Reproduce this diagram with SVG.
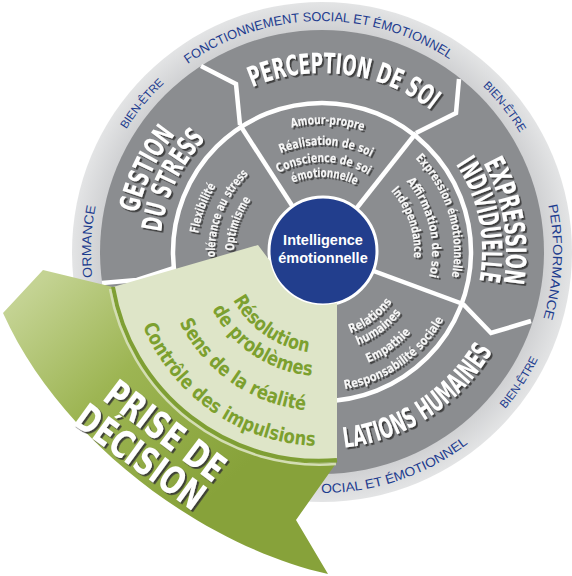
<svg xmlns="http://www.w3.org/2000/svg" xmlns:xlink="http://www.w3.org/1999/xlink" width="572" height="576" viewBox="0 0 572 576">
<defs>
<style>
.blue{font-family:"Liberation Sans",Arial,sans-serif;font-size:13px;fill:#1d3c8f}
.ttl{font-family:"DejaVu Sans Condensed","DejaVu Sans",sans-serif;font-stretch:condensed;font-weight:bold;font-size:28px;fill:#ffffff}
.in{font-family:"DejaVu Sans Condensed","DejaVu Sans",sans-serif;font-stretch:condensed;font-weight:bold;font-size:12.5px;fill:#f6f6f6}
.gr{font-family:"DejaVu Sans Condensed","DejaVu Sans",sans-serif;font-stretch:condensed;font-weight:bold;font-size:19.5px;fill:#7ca02f}
.big{font-family:"DejaVu Sans Condensed","DejaVu Sans",sans-serif;font-stretch:condensed;font-weight:bold;font-size:38px;fill:#ffffff}
.div{fill:none;stroke:#ffffff;stroke-width:4.5;stroke-linejoin:miter}
</style>
<filter id="sh" x="-10%" y="-10%" width="120%" height="120%"><feDropShadow dx="1.8" dy="1.8" stdDeviation="0.6" flood-color="#353535" flood-opacity="0.9"/></filter>
<linearGradient id="band" gradientUnits="userSpaceOnUse" x1="40" y1="280" x2="230" y2="480">
<stop offset="0" stop-color="#c4d393"/><stop offset="0.45" stop-color="#9db553"/><stop offset="1" stop-color="#87a23a"/>
</linearGradient>
<radialGradient id="lring" gradientUnits="userSpaceOnUse" cx="322" cy="252" r="250">
<stop offset="0.88" stop-color="#cfd0d2"/><stop offset="1" stop-color="#e3e4e5"/>
</radialGradient>
<path id="cw231" d="M91,252 A231,231 0 0 1 553,252"/>
<path id="cw179" d="M143,252 A179,179 0 0 1 501,252"/>
<path id="cw188" d="M134,252 A188,188 0 0 1 510,252"/>
<path id="cw162" d="M160,252 A162,162 0 0 1 484,252"/>
<path id="cw184" d="M138,252 A184,184 0 0 1 506,252"/>
<path id="cw160" d="M162,252 A160,160 0 0 1 482,252"/>
<path id="cw128" d="M194,252 A128,128 0 0 1 450,252"/>
<path id="cw107" d="M215,252 A107,107 0 0 1 429,252"/>
<path id="cw90" d="M232,252 A90,90 0 0 1 412,252"/>
<path id="cw75" d="M247,252 A75,75 0 0 1 397,252"/>
<path id="cw125" d="M197,252 A125,125 0 0 1 447,252"/>
<path id="cw88" d="M234,252 A88,88 0 0 1 410,252"/>
<path id="cw132" d="M190,252 A132,132 0 0 1 454,252"/>
<path id="cw110" d="M212,252 A110,110 0 0 1 432,252"/>
<path id="cw92" d="M230,252 A92,92 0 0 1 414,252"/>
<path id="ccw241" d="M81,252 A241,241 0 0 0 563,252"/>
<path id="ccw197" d="M125,252 A197,197 0 0 0 519,252"/>
<path id="ccw86" d="M236,252 A86,86 0 0 0 408,252"/>
<path id="ccw100" d="M222,252 A100,100 0 0 0 422,252"/>
<path id="ccw120" d="M202,252 A120,120 0 0 0 442,252"/>
<path id="ccw139" d="M183,252 A139,139 0 0 0 461,252"/>
<path id="ccw101" d="M221,252 A101,101 0 0 0 423,252"/>
<path id="ccw124" d="M198,252 A124,124 0 0 0 446,252"/>
<path id="ccw159" d="M163,252 A159,159 0 0 0 481,252"/>
<path id="ccw194" d="M128,252 A194,194 0 0 0 516,252"/>
</defs>

<g id="ring">
<circle cx="322" cy="252" r="250" fill="url(#lring)"/>
<circle cx="322" cy="252" r="222" fill="#8b8d90"/>
<circle cx="322" cy="252" r="149" fill="none" stroke="#ffffff" stroke-width="4.5"/>
</g>

<g id="dividers">
<polyline class="div" points="201,66 236,84 240,125"/>
<polyline class="div" points="459,79 456,113 416,133"/>
<polyline class="div" points="463,304 491,333 531,321"/>
<polyline class="div" points="174,268 137,280 102,283"/>
<line class="div" x1="240" y1="125" x2="322" y2="252"/>
<line class="div" x1="416" y1="133" x2="322" y2="252"/>
<line class="div" x1="463" y1="304" x2="322" y2="252"/>
</g>

<g id="outer-labels">
<text class="blue" transform="rotate(-1 322 252)" text-anchor="middle"><textPath xlink:href="#cw231" href="#cw231" startOffset="50%" textLength="278" lengthAdjust="spacingAndGlyphs">FONCTIONNEMENT SOCIAL ET ÉMOTIONNEL</textPath></text>
<text class="blue" transform="rotate(-18.6 322 252)" text-anchor="middle"><textPath xlink:href="#ccw241" href="#ccw241" startOffset="50%" textLength="158" lengthAdjust="spacingAndGlyphs">OCIAL ET ÉMOTIONNEL</textPath></text>
<text class="blue" style="font-size:11.5px" transform="rotate(-50.5 322 252)" text-anchor="middle"><textPath xlink:href="#cw231" href="#cw231" startOffset="50%" textLength="60" lengthAdjust="spacingAndGlyphs">BIEN-ÊTRE</textPath></text>
<text class="blue" style="font-size:11.5px" transform="rotate(51.5 322 252)" text-anchor="middle"><textPath xlink:href="#cw231" href="#cw231" startOffset="50%" textLength="60" lengthAdjust="spacingAndGlyphs">BIEN-ÊTRE</textPath></text>
<text class="blue" style="font-size:11.5px" transform="rotate(-56.5 322 252)" text-anchor="middle"><textPath xlink:href="#ccw241" href="#ccw241" startOffset="50%" textLength="60" lengthAdjust="spacingAndGlyphs">BIEN-ÊTRE</textPath></text>
<text class="blue" transform="rotate(92.5 322 252)" text-anchor="middle"><textPath xlink:href="#cw231" href="#cw231" startOffset="50%" textLength="115" lengthAdjust="spacingAndGlyphs">PERFORMANCE</textPath></text>
<text class="blue" transform="rotate(272.6 322 252)" text-anchor="middle"><textPath xlink:href="#cw231" href="#cw231" startOffset="50%" textLength="72" lengthAdjust="spacingAndGlyphs">ORMANCE</textPath></text>
</g>

<g id="perception" filter="url(#sh)">
<text class="ttl" transform="rotate(7.3 322 252)" text-anchor="middle"><textPath xlink:href="#cw179" href="#cw179" startOffset="50%" textLength="189" lengthAdjust="spacingAndGlyphs">PERCEPTION DE SOI</textPath></text>
<text class="in" transform="rotate(2.5 322 252)" text-anchor="middle"><textPath xlink:href="#cw128" href="#cw128" startOffset="50%" textLength="73" lengthAdjust="spacingAndGlyphs">Amour-propre</textPath></text>
<text class="in" transform="rotate(2.2 322 252)" text-anchor="middle"><textPath xlink:href="#cw107" href="#cw107" startOffset="50%" textLength="93" lengthAdjust="spacingAndGlyphs">Réalisation de soi</textPath></text>
<text class="in" transform="rotate(1.1 322 252)" text-anchor="middle"><textPath xlink:href="#cw90" href="#cw90" startOffset="50%" textLength="94" lengthAdjust="spacingAndGlyphs">Conscience de soi</textPath></text>
<text class="in" transform="rotate(2 322 252)" text-anchor="middle"><textPath xlink:href="#cw75" href="#cw75" startOffset="50%" textLength="65" lengthAdjust="spacingAndGlyphs">émotionnelle</textPath></text>
</g>

<g id="gestion" filter="url(#sh)">
<text class="ttl" transform="rotate(-64.6 322 252)" text-anchor="middle"><textPath xlink:href="#cw188" href="#cw188" startOffset="50%" textLength="88" lengthAdjust="spacingAndGlyphs">GESTION</textPath></text>
<text class="ttl" transform="rotate(-64.4 322 252)" text-anchor="middle"><textPath xlink:href="#cw162" href="#cw162" startOffset="50%" textLength="105" lengthAdjust="spacingAndGlyphs">DU STRESS</textPath></text>
<text class="in" transform="rotate(-69.8 322 252)" text-anchor="middle"><textPath xlink:href="#cw125" href="#cw125" startOffset="50%" textLength="51" lengthAdjust="spacingAndGlyphs">Flexibilité</textPath></text>
<text class="in" transform="rotate(-68 322 252)" text-anchor="middle"><textPath xlink:href="#cw107" href="#cw107" startOffset="50%" textLength="92" lengthAdjust="spacingAndGlyphs">olérance au stress</textPath></text>
<text class="in" transform="rotate(-71.5 322 252)" text-anchor="middle"><textPath xlink:href="#cw88" href="#cw88" startOffset="50%" textLength="55" lengthAdjust="spacingAndGlyphs">Optimisme</textPath></text>
</g>

<g id="expression" filter="url(#sh)">
<text class="ttl" transform="rotate(80.4 322 252)" text-anchor="middle"><textPath xlink:href="#cw184" href="#cw184" startOffset="50%" textLength="124" lengthAdjust="spacingAndGlyphs">EXPRESSION</textPath></text>
<text class="ttl" transform="rotate(78.6 322 252)" text-anchor="middle"><textPath xlink:href="#cw160" href="#cw160" startOffset="50%" textLength="122" lengthAdjust="spacingAndGlyphs">INDIVIDUELLE</textPath></text>
<text class="in" transform="rotate(72.9 322 252)" text-anchor="middle"><textPath xlink:href="#cw132" href="#cw132" startOffset="50%" textLength="129" lengthAdjust="spacingAndGlyphs">Expression émotionnelle</textPath></text>
<text class="in" transform="rotate(76.5 322 252)" text-anchor="middle"><textPath xlink:href="#cw110" href="#cw110" startOffset="50%" textLength="102" lengthAdjust="spacingAndGlyphs">Affirmation de soi</textPath></text>
<text class="in" transform="rotate(71 322 252)" text-anchor="middle"><textPath xlink:href="#cw92" href="#cw92" startOffset="50%" textLength="73" lengthAdjust="spacingAndGlyphs">Indépendance</textPath></text>
</g>

<g id="relations" filter="url(#sh)">
<text class="ttl" transform="rotate(-33.25 322 252)" text-anchor="middle"><textPath xlink:href="#ccw197" href="#ccw197" startOffset="50%" textLength="184" lengthAdjust="spacingAndGlyphs">LATIONS HUMAINES</textPath></text>
<text class="in" transform="rotate(-37 322 252)" text-anchor="middle"><textPath xlink:href="#ccw86" href="#ccw86" startOffset="50%" textLength="53" lengthAdjust="spacingAndGlyphs">Relations</textPath></text>
<text class="in" transform="rotate(-36.8 322 252)" text-anchor="middle"><textPath xlink:href="#ccw100" href="#ccw100" startOffset="50%" textLength="55" lengthAdjust="spacingAndGlyphs">humaines</textPath></text>
<text class="in" transform="rotate(-35.2 322 252)" text-anchor="middle"><textPath xlink:href="#ccw120" href="#ccw120" startOffset="50%" textLength="53" lengthAdjust="spacingAndGlyphs">Empathie</textPath></text>
<text class="in" transform="rotate(-35.2 322 252)" text-anchor="middle"><textPath xlink:href="#ccw139" href="#ccw139" startOffset="50%" textLength="125" lengthAdjust="spacingAndGlyphs">Responsabilité sociale</textPath></text>
</g>

<g id="centre-disc">
<circle cx="323" cy="251" r="54" fill="#223e8d" stroke="#ffffff" stroke-width="3"/>
</g>

<g id="prise">
<path d="M43,270 L113,287 A211,211 0 0 0 337,462 L296,520 L328,574 C200,545 60,440 3,313 Z" fill="url(#band)"/>
<path d="M113,287 L258,245 L270,261 A53,53 0 0 0 332,304 L337,303 L337,462 A211,211 0 0 1 113,287 Z" fill="#dee5c8"/>
<path d="M113,287 A209,209 0 0 0 337,460" fill="none" stroke="#7f9f34" stroke-width="4"/>
<path d="M110,289 A213,213 0 0 0 336,464" fill="none" stroke="#d3ddb3" stroke-width="2.5"/>
<text class="gr" transform="rotate(34.8 322 252)" text-anchor="middle"><textPath xlink:href="#ccw101" href="#ccw101" startOffset="50%" textLength="95" lengthAdjust="spacingAndGlyphs">Résolution</textPath></text>
<text class="gr" transform="rotate(33.6 322 252)" text-anchor="middle"><textPath xlink:href="#ccw124" href="#ccw124" startOffset="50%" textLength="125" lengthAdjust="spacingAndGlyphs">de problèmes</textPath></text>
<text class="gr" transform="rotate(34.9 322 252)" text-anchor="middle"><textPath xlink:href="#ccw159" href="#ccw159" startOffset="50%" textLength="160" lengthAdjust="spacingAndGlyphs">Sens de la réalité</textPath></text>
<text class="gr" transform="rotate(34.8 322 252)" text-anchor="middle"><textPath xlink:href="#ccw194" href="#ccw194" startOffset="50%" textLength="222" lengthAdjust="spacingAndGlyphs">Contrôle des impulsions</textPath></text>
<g filter="url(#sh)">
<text class="big" transform="translate(165,431) rotate(37)" x="0" y="13" text-anchor="middle" textLength="140" lengthAdjust="spacingAndGlyphs">PRISE DE</text>
<text class="big" transform="translate(140,457) rotate(36)" x="0" y="13" text-anchor="middle" textLength="150" lengthAdjust="spacingAndGlyphs">DÉCISION</text>
</g>
</g>

<g id="centre">
<text x="323" y="245" text-anchor="middle" style="font-family:'Liberation Sans',Arial,sans-serif;font-weight:bold;font-size:14.5px;fill:#ffffff">Intelligence</text>
<text x="323" y="263" text-anchor="middle" style="font-family:'Liberation Sans',Arial,sans-serif;font-weight:bold;font-size:14.5px;fill:#ffffff">émotionnelle</text>
</g>
</svg>
